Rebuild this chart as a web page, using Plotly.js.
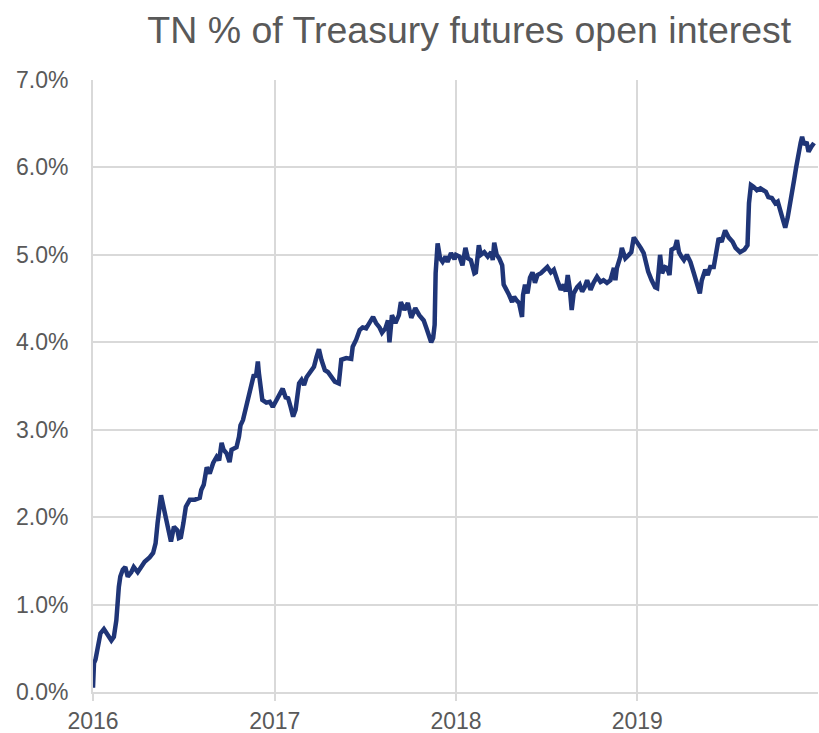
<!DOCTYPE html>
<html>
<head>
<meta charset="utf-8">
<script src="https://cdn.plot.ly/plotly-3.0.1.min.js"></script>
<style>
  html, body { margin: 0; padding: 0; background: #ffffff; }
  #chart { width: 819px; height: 733px; }
</style>
</head>
<body>
<div id="chart"></div>
<script>
const chartTitle = "TN % of Treasury futures open interest";

const dates = [
  "2016-01-01","2016-01-03","2016-01-06","2016-01-11","2016-01-16","2016-01-23","2016-01-30","2016-02-07","2016-02-12","2016-02-17",
  "2016-02-22","2016-02-25","2016-03-01","2016-03-06","2016-03-11","2016-03-18","2016-03-23","2016-03-31","2016-04-07","2016-04-14",
  "2016-04-24","2016-05-01","2016-05-06","2016-05-08","2016-05-10","2016-05-17","2016-05-25","2016-05-31","2016-06-06","2016-06-12",
  "2016-06-19","2016-06-22","2016-06-26","2016-07-01","2016-07-06","2016-07-14","2016-07-24","2016-08-03","2016-08-06","2016-08-11",
  "2016-08-17","2016-08-23","2016-08-30","2016-09-06","2016-09-11","2016-09-16","2016-09-20","2016-09-26","2016-10-02","2016-10-06",
  "2016-10-16","2016-10-21","2016-10-24","2016-10-29","2016-11-05","2016-11-08","2016-11-12","2016-11-18","2016-11-20","2016-11-24",
  "2016-11-28","2016-11-30","2016-12-04","2016-12-07","2016-12-15","2016-12-22","2016-12-28",
  "2017-01-05","2017-01-10","2017-01-17","2017-01-23","2017-01-28","2017-02-02","2017-02-07","2017-02-12","2017-02-19","2017-02-24",
  "2017-03-01","2017-03-06","2017-03-13","2017-03-21","2017-03-26","2017-03-31","2017-04-05","2017-04-12","2017-04-18","2017-04-25",
  "2017-05-02","2017-05-10","2017-05-15","2017-05-25","2017-06-04","2017-06-07","2017-06-14","2017-06-21","2017-06-27","2017-07-04",
  "2017-07-11","2017-07-18","2017-07-24","2017-07-31","2017-08-05","2017-08-12","2017-08-17","2017-08-20","2017-08-25","2017-09-01",
  "2017-09-08","2017-09-12","2017-09-19","2017-09-26","2017-10-03","2017-10-11","2017-10-19","2017-10-28","2017-11-02","2017-11-07",
  "2017-11-12","2017-11-16","2017-11-19","2017-11-21","2017-11-25","2017-11-30","2017-12-05","2017-12-11","2017-12-15","2017-12-22",
  "2017-12-29",
  "2018-01-01","2018-01-08","2018-01-14","2018-01-20","2018-01-25","2018-01-31","2018-02-07","2018-02-10","2018-02-16","2018-02-20",
  "2018-02-27","2018-03-06","2018-03-13","2018-03-16","2018-03-19","2018-03-24","2018-03-29","2018-04-04","2018-04-07","2018-04-13",
  "2018-04-18","2018-04-24","2018-04-28","2018-05-03","2018-05-08","2018-05-14","2018-05-16","2018-05-20","2018-05-25","2018-05-30",
  "2018-06-04","2018-06-09","2018-06-14","2018-06-21","2018-06-27","2018-07-04","2018-07-11","2018-07-17","2018-07-24","2018-07-31",
  "2018-08-06","2018-08-10","2018-08-14","2018-08-18","2018-08-22","2018-08-26","2018-09-02","2018-09-07","2018-09-12","2018-09-17",
  "2018-09-22","2018-09-29","2018-10-05","2018-10-12","2018-10-19","2018-10-25","2018-11-01","2018-11-08","2018-11-15","2018-11-18",
  "2018-11-21","2018-11-28","2018-12-01","2018-12-08","2018-12-15","2018-12-20","2018-12-25",
  "2019-01-01","2019-01-08","2019-01-14","2019-01-18","2019-01-23","2019-01-30","2019-02-06","2019-02-10","2019-02-16","2019-02-20",
  "2019-02-26","2019-03-02","2019-03-07","2019-03-11","2019-03-18","2019-03-22","2019-03-26","2019-03-31","2019-04-05","2019-04-11",
  "2019-04-18","2019-04-25","2019-05-01","2019-05-07","2019-05-11","2019-05-18","2019-05-23","2019-05-28","2019-06-04","2019-06-08",
  "2019-06-14","2019-06-20","2019-06-27","2019-07-04","2019-07-12","2019-07-18","2019-07-27","2019-08-05","2019-08-11","2019-08-14",
  "2019-08-18","2019-08-23","2019-08-30","2019-09-06","2019-09-12","2019-09-17","2019-09-22","2019-09-29","2019-10-06","2019-10-11",
  "2019-10-16","2019-10-20","2019-10-26","2019-10-31","2019-11-05","2019-11-09","2019-11-13","2019-11-17","2019-11-21","2019-11-26",
  "2019-11-29","2019-12-03","2019-12-08","2019-12-12","2019-12-18","2019-12-23"
];

const tnShare = [
  0.05,0.33,0.37,0.52,0.67,0.72,0.65,0.59,0.63,0.82,
  1.20,1.32,1.40,1.43,1.32,1.37,1.43,1.37,1.43,1.49,
  1.54,1.59,1.70,1.85,1.93,2.25,2.05,1.85,1.72,1.89,
  1.85,1.76,1.77,1.93,2.12,2.20,2.20,2.22,2.31,2.37,
  2.57,2.50,2.62,2.69,2.65,2.85,2.77,2.73,2.63,2.77,
  2.80,2.92,3.05,3.11,3.26,3.34,3.45,3.57,3.63,3.60,
  3.78,3.65,3.45,3.34,3.31,3.32,3.26,
  3.34,3.40,3.47,3.37,3.36,3.26,3.15,3.23,3.53,3.57,
  3.51,3.60,3.66,3.72,3.83,3.92,3.80,3.68,3.66,3.60,
  3.55,3.53,3.80,3.82,3.81,3.95,4.03,4.14,4.17,4.16,
  4.22,4.29,4.22,4.17,4.11,4.16,4.25,4.00,4.31,4.22,
  4.31,4.46,4.37,4.45,4.28,4.39,4.31,4.25,4.17,4.06,
  4.00,4.05,4.20,4.79,5.13,4.96,4.92,4.98,4.92,5.02,
  4.95,
  5.00,4.98,4.88,5.08,4.96,4.94,4.79,4.80,5.11,5.00,
  5.03,4.98,5.03,4.94,5.14,5.00,4.96,4.88,4.66,4.60,
  4.54,4.46,4.52,4.48,4.45,4.29,4.54,4.66,4.56,4.74,
  4.80,4.68,4.77,4.79,4.83,4.86,4.80,4.83,4.71,4.60,
  4.66,4.58,4.77,4.62,4.37,4.56,4.63,4.66,4.58,4.63,
  4.71,4.60,4.68,4.75,4.69,4.71,4.68,4.71,4.85,4.71,
  4.85,4.98,5.08,4.96,5.00,5.03,5.20,
  5.15,5.08,5.02,4.91,4.81,4.71,4.63,4.62,5.00,4.79,
  4.86,4.85,4.77,5.06,5.08,5.17,5.03,4.98,4.94,5.00,
  4.92,4.79,4.68,4.56,4.71,4.83,4.77,4.86,4.86,4.98,
  5.19,5.15,5.28,5.20,5.15,5.08,5.03,5.06,5.11,5.59,
  5.80,5.78,5.74,5.76,5.74,5.72,5.66,5.65,5.59,5.61,
  5.51,5.43,5.31,5.43,5.59,5.66,5.86,6.00,6.16,6.28,
  6.35,6.26,6.29,6.18,6.24,6.28
];

const yTickVals = [0, 1, 2, 3, 4, 5, 6, 7];
const yTickText = ["0.0%", "1.0%", "2.0%", "3.0%", "4.0%", "5.0%", "6.0%", "7.0%"];
const xTickVals = ["2016-01-01", "2017-01-01", "2018-01-01", "2019-01-01"];
const xTickText = ["2016", "2017", "2018", "2019"];

const FONT = "Liberation Sans, Arial, sans-serif";
const GREY = "#595959";
const GRID = "#d9d9d9";

const trace = {
  x: dates,
  y: tnShare,
  type: "scatter",
  mode: "lines",
  line: { color: "#1f3577", width: 4.5 },
  hoverinfo: "x+y"
};

const layout = {
  width: 819,
  height: 733,
  paper_bgcolor: "#ffffff",
  plot_bgcolor: "#ffffff",
  margin: { l: 93, r: 1, t: 80, b: 41 },
  showlegend: false,
  font: { family: FONT, color: GREY },
  title: {
    text: chartTitle,
    font: { family: FONT, size: 37.5, color: GREY },
    xref: "paper", x: 0.519, xanchor: "center",
    yref: "container", y: 0.959, yanchor: "middle"
  },
  xaxis: {
    type: "date",
    range: ["2016-01-01", "2019-12-31"],
    tickmode: "array",
    tickvals: xTickVals,
    ticktext: xTickText,
    showgrid: true,
    gridcolor: GRID,
    gridwidth: 2,
    showline: true,
    linecolor: GRID,
    linewidth: 2,
    ticks: "outside",
    ticklen: 7,
    tickwidth: 2,
    tickcolor: GRID,
    ticklabelstandoff: 0,
    tickfont: { family: FONT, size: 23, color: GREY },
    zeroline: false,
    fixedrange: true
  },
  yaxis: {
    range: [0, 7],
    tickmode: "array",
    tickvals: yTickVals,
    ticktext: yTickText,
    showgrid: true,
    gridcolor: GRID,
    gridwidth: 2,
    showline: true,
    linecolor: GRID,
    linewidth: 2,
    ticks: "",
    ticklabelstandoff: 18,
    tickfont: { family: FONT, size: 23, color: GREY },
    zeroline: false,
    fixedrange: true
  }
};

Plotly.newPlot("chart", [trace], layout, { displayModeBar: false, staticPlot: true });
</script>
</body>
</html>
